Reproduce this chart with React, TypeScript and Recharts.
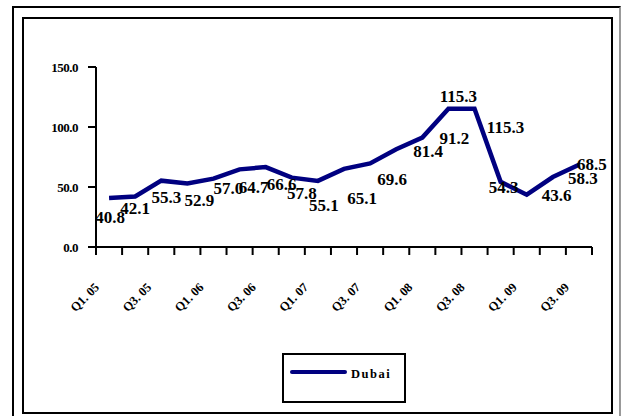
import { LineChart, Line, XAxis, YAxis, LabelList } from "recharts"

const quarters = [
    "Q1. 05", "Q2. 05", "Q3. 05", "Q4. 05",
    "Q1. 06", "Q2. 06", "Q3. 06", "Q4. 06",
    "Q1. 07", "Q2. 07", "Q3. 07", "Q4. 07",
    "Q1. 08", "Q2. 08", "Q3. 08", "Q4. 08",
    "Q1. 09", "Q2. 09", "Q3. 09",
]
const dubai = [40.8, 42.1, 55.3, 52.9, 57.0, 64.7, 66.6, 57.8, 55.1, 65.1, 69.6, 81.4, 91.2, 115.3, 115.3, 54.3, 43.6, 58.3, 68.5]
const yTicks = [0, 50, 100, 150]
const seriesName = "Dubai"

// excel put the data labels all over the place, these are the offsets from each point
const labelOffsets = [
    [1, 19], [0, 12], [5, 16], [12, 17], [15, 9], [14, 18], [16, 17], [10, 15], [6, 24], [18, 29],
    [22, 16], [32, 2], [32, 0], [10, -13], [31, 18], [3, 5], [30, 0], [30, 1], [13, -1],
]

const data = quarters.map((q, i) => ({ idx: i, q, v: dubai[i] }))
// tick marks sit between categories, like excel
const boundaryTicks = Array.from({ length: quarters.length + 1 }, (_, i) => i - 0.5)

const NAVY = "#000080"
const SERIF = '"Liberation Serif", "Times New Roman", serif'

function QuarterTick({ x, y, payload }: any) {
    const k = payload.value + 0.5
    if (k % 2 !== 0 || k >= quarters.length) return null
    const ax = x + 13 - 9
    const ay = y + 31
    return (
        <text x={ax} y={ay} transform={`rotate(-45, ${ax}, ${ay})`}
            textAnchor="end" fontFamily={SERIF} fontWeight="bold" fontSize={12.5} fill="#000">
            {quarters[k]}
        </text>
    )
}

function ValueLabel({ x, y, value, index }: any) {
    const [dx, dy] = labelOffsets[index] ?? [0, 0]
    return (
        <text x={x + dx} y={y + dy} dy="0.35em" textAnchor="middle"
            fontFamily={SERIF} fontWeight="bold" fontSize={17} fill="#000">
            {value.toFixed(1)}
        </text>
    )
}

export default function App() {
    return (
        <div style={{ position: 'absolute', left: 0, top: 0, width: 622, height: 416, overflow: 'hidden', background: '#fff' }}>
            <div style={{
                position: 'absolute', left: 12, top: 6, width: 609, height: 420, boxSizing: 'border-box',
                border: '2px solid #000', borderRightColor: '#999'
            }} />
            <div style={{
                position: 'absolute', left: 22, top: 17, width: 591, height: 397, boxSizing: 'border-box',
                border: '2px solid #000'
            }} />
            <div style={{ position: 'absolute', left: 0, top: 0 }}>
                <LineChart width={622} height={416} data={data}
                    margin={{ top: 67, right: 30, left: 0, bottom: 109 }}>
                    <XAxis dataKey="idx" type="number" domain={[-0.5, quarters.length - 0.5]}
                        ticks={boundaryTicks} interval={0} height={60}
                        axisLine={{ stroke: '#000', strokeWidth: 2 }}
                        tickLine={{ stroke: '#000', strokeWidth: 2 }} tickSize={8}
                        tick={<QuarterTick />} />
                    <YAxis domain={[0, 150]} ticks={yTicks} width={96} tickSize={8} tickMargin={10}
                        axisLine={{ stroke: '#000', strokeWidth: 2 }}
                        tickLine={{ stroke: '#000', strokeWidth: 2 }}
                        tickFormatter={(v) => v.toFixed(1)}
                        tick={{ fontFamily: SERIF, fontWeight: 'bold', fontSize: 13, fill: '#000', letterSpacing: -0.5 }} />
                    <Line isAnimationActive={false} type="linear" dataKey="v" name={seriesName}
                        stroke={NAVY} strokeWidth={4.5} dot={false} activeDot={false}>
                        <LabelList dataKey="v" content={<ValueLabel />} />
                    </Line>
                </LineChart>
            </div>
            <div style={{
                position: 'absolute', left: 282, top: 353, width: 124, height: 50, boxSizing: 'border-box',
                border: '2px solid #000', background: '#fff'
            }}>
                <svg width={120} height={46} style={{ position: 'absolute', left: 0, top: 0 }}>
                    <line x1={8} y1={17} x2={61} y2={17} stroke={NAVY} strokeWidth={4} strokeLinecap="round" />
                    <text x={67} y={23} fontFamily={SERIF} fontWeight="bold" fontSize={12.5} letterSpacing={1.5} fill="#000">
                        {seriesName}
                    </text>
                </svg>
            </div>
        </div>
    )
}
